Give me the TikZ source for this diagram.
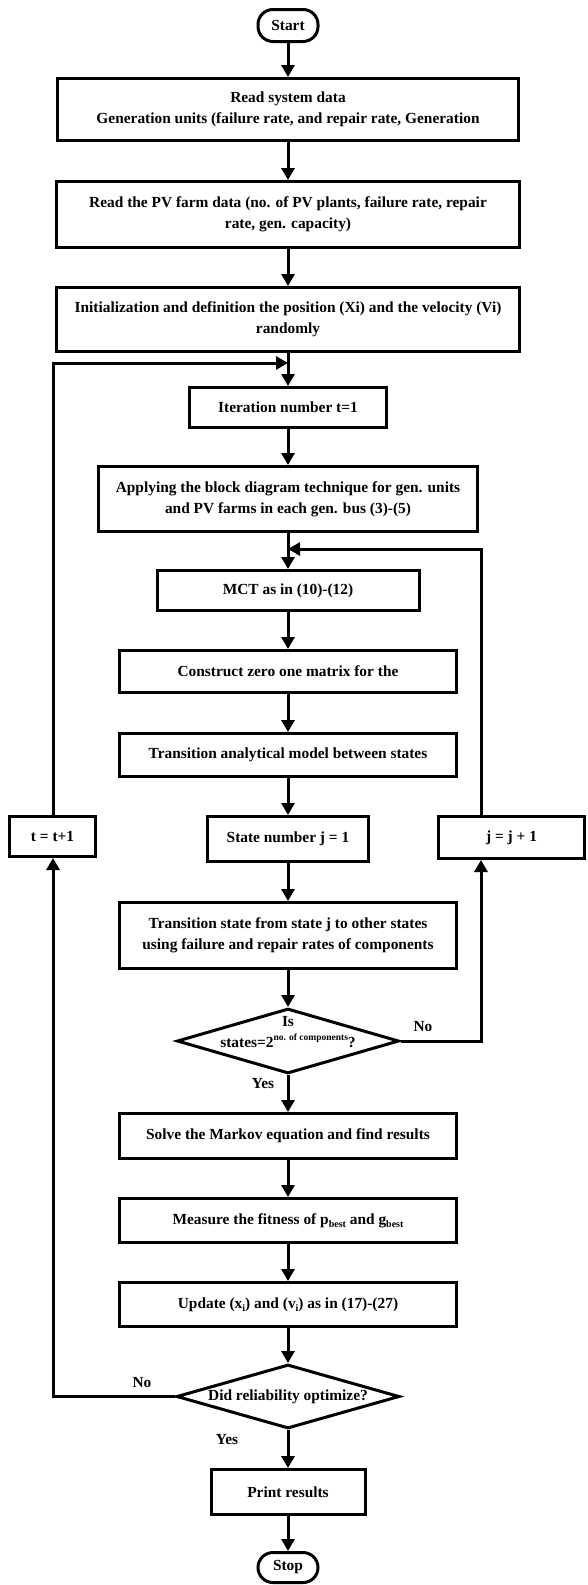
\documentclass[tikz,border=0pt]{standalone}
\usepackage{fontspec}
\setmainfont{Liberation Serif}
\usetikzlibrary{shapes.geometric, arrows.meta, calc}
\definecolor{flowink}{RGB}{0, 0, 0}
\newcommand{\flowfont}{\fontsize{15.4}{21}\selectfont\bfseries}
\newcommand{\smallsup}[1]{\raisebox{0.45em}{\fontsize{9.5}{10}\selectfont #1}}
\newcommand{\smallsub}[1]{\raisebox{-0.2em}{\fontsize{10}{10}\selectfont #1}}
\tikzset{
  procbox/.style={
    draw=flowink,
    line width=3pt,
    fill=white,
    align=center,
    inner sep=2pt,
    font=\flowfont
  },
  termbox/.style={
    procbox,
    rounded corners=15pt
  },
  decision/.style={
    diamond,
    draw=flowink,
    line width=3pt,
    fill=white,
    inner sep=0pt
  },
  flowarrow/.style={
    draw=flowink,
    line width=3pt,
    -{Triangle[length=12pt,width=13pt]}
  },
  answer/.style={
    font=\flowfont,
    inner sep=0pt
  }
}

\begin{document}
\begin{tikzpicture}[x=1pt, y=-1pt]
  \useasboundingbox (0,0) rectangle (588,1585);

  % Start and input data
  \node[termbox, minimum width=60pt, minimum height=32pt] (start) at (288,25.5) {Start};
  \node[procbox, minimum width=461pt, minimum height=62pt] (readsys) at (288,109.5) {Read system data\\Generation units (failure rate, and repair rate, Generation};
  \node[procbox, minimum width=463pt, minimum height=66pt] (pvdata) at (288,214.5) {Read the PV farm data (no. of PV plants, failure rate, repair\\rate, gen. capacity)};
  \node[procbox, minimum width=463pt, minimum height=64pt] (init) at (288,319.5) {Initialization and definition the position (Xi) and the velocity (Vi)\\randomly};

  % Iteration loop
  \node[procbox, minimum width=197pt, minimum height=40pt] (iter) at (288,407.5) {Iteration number t=1};
  \node[procbox, minimum width=379pt, minimum height=65pt] (block) at (288,499) {Applying the block diagram technique for gen. units\\and PV farms in each gen. bus (3)-(5)};
  \node[procbox, minimum width=262pt, minimum height=40pt] (mct) at (288,590.5) {MCT as in (10)-(12)};
  \node[procbox, minimum width=337pt, minimum height=42pt] (zeroone) at (288,671.5) {Construct zero one matrix for the};
  \node[procbox, minimum width=337pt, minimum height=43pt] (model) at (288,755) {Transition analytical model between states};
  \node[procbox, minimum width=161pt, minimum height=45pt] (statej) at (288,839) {State number j = 1};
  \node[procbox, minimum width=86pt, minimum height=40pt] (tinc) at (52.5,836.5) {t = t+1};
  \node[procbox, minimum width=146pt, minimum height=42pt] (jinc) at (511.5,837.5) {j = j + 1};
  \node[procbox, minimum width=337pt, minimum height=66pt] (trans) at (288,935.5) {Transition state from state j to other states\\using failure and repair rates of components};
  \node[decision, minimum width=222pt, minimum height=65pt,
    label={[font=\flowfont, align=center, inner sep=0pt, yshift=9pt]center:Is\\states=2\smallsup{no. of components}?}] (dec1) at (288,1041) {};

  % Markov solution and update
  \node[procbox, minimum width=337pt, minimum height=45pt] (solve) at (288,1136) {Solve the Markov equation and find results};
  \node[procbox, minimum width=337pt, minimum height=44pt] (fitness) at (288,1220.5) {Measure the fitness of p\smallsub{best} and g\smallsub{best}};
  \node[procbox, minimum width=337pt, minimum height=44pt] (update) at (288,1304.5) {Update (x\smallsub{i}) and (v\smallsub{i}) as in (17)-(27)};
  \node[decision, minimum width=223pt, minimum height=64pt,
    label={[font=\flowfont, inner sep=0pt]center:Did reliability optimize?}] (dec2) at (288,1396.5) {};
  \node[procbox, minimum width=154pt, minimum height=45pt] (print) at (288,1492) {Print results};
  \node[termbox, minimum width=60pt, minimum height=30pt] (stop) at (288,1567.5) {Stop};

  % Yes / No labels
  \node[answer] (no1) at (423,1027) {No};
  \node[answer] (yes1) at (263,1084) {Yes};
  \node[answer] (no2) at (142,1383) {No};
  \node[answer] (yes2) at (227,1440) {Yes};

  % Main flow
  \draw[flowarrow] (start) -- (readsys);
  \draw[flowarrow] (readsys) -- (pvdata);
  \draw[flowarrow] (pvdata) -- (init);
  \draw[flowarrow] (init) -- (iter);
  \draw[flowarrow] (iter) -- (block);
  \draw[flowarrow] (block) -- (mct);
  \draw[flowarrow] (mct) -- (zeroone);
  \draw[flowarrow] (zeroone) -- (model);
  \draw[flowarrow] (model) -- (statej);
  \draw[flowarrow] (statej) -- (trans);
  \draw[flowarrow] (trans) -- (dec1);
  \draw[flowarrow] (dec1) -- (solve);
  \draw[flowarrow] (solve) -- (fitness);
  \draw[flowarrow] (fitness) -- (update);
  \draw[flowarrow] (update) -- (dec2);
  \draw[flowarrow] (dec2) -- (print);
  \draw[flowarrow] (print) -- (stop);

  % State loop (right)
  \coordinate (jcol) at (481,1041);
  \coordinate (jback) at (288,549);
  \draw[flowarrow] (dec1.east) -- (jcol) -- (jcol |- jinc.south);
  \draw[flowarrow] (jcol |- jinc.north) -- (jcol |- jback) -- (jback);

  % Iteration loop (left)
  \coordinate (tcol) at (53,1396.5);
  \coordinate (tback) at (288,363);
  \draw[flowarrow] (dec2.west) -- (tcol) -- (tcol |- tinc.south);
  \draw[flowarrow] (tcol |- tinc.north) -- (tcol |- tback) -- (tback);
\end{tikzpicture}
\end{document}
